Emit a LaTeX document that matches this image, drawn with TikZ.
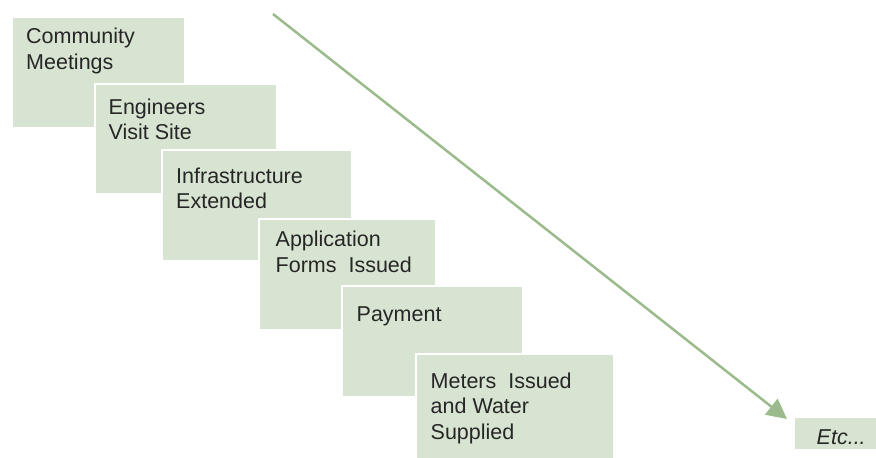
\documentclass[tikz,border=0pt]{standalone}
\usepackage{fontspec}
\setmainfont{Liberation Sans}
\usetikzlibrary{arrows.meta,calc,positioning}
\definecolor{stepfill}{RGB}{216,228,210}
\definecolor{flowgreen}{RGB}{155,187,140}
\definecolor{stepink}{RGB}{38,38,38}

\begin{document}
\begin{tikzpicture}[x=1pt,y=-1pt,
  stepbox/.style={rectangle, fill=stepfill, draw=white, line width=1.5pt,
    anchor=north west, inner sep=0pt},
  steplabel/.style={anchor=base west, inner sep=0pt, align=left, text=stepink,
    font=\fontsize{21.5}{25.5}\selectfont},
  flow/.style={draw=flowgreen, line width=2.5pt, -{Triangle[length=20pt,width=20pt]}}]
    \useasboundingbox (0,0) rectangle (876,458);

    % the steps, each one over the one before (base is the last line)
    \node[stepbox, minimum width=173pt, minimum height=111pt] (meet)   at (11,16) {};
    \node[steplabel] (meet-t)   at ($(meet.north west)+(15,53)$)     {Community\\Meetings};
    \node[stepbox, minimum width=182pt, minimum height=110pt] (visit)  at (94,83) {};
    \node[steplabel] (visit-t)  at ($(visit.north west)+(14.5,56.5)$) {Engineers\\Visit Site};
    \node[stepbox, minimum width=190pt, minimum height=111pt] (infra)  at (161,149) {};
    \node[steplabel] (infra-t)  at ($(infra.north west)+(15,59.5)$)  {Infrastructure\\Extended};
    \node[stepbox, minimum width=177pt, minimum height=111pt] (forms)  at (258,218) {};
    \node[steplabel] (forms-t)  at ($(forms.north west)+(17.5,54)$)  {Application\\Forms\ \ Issued};
    \node[stepbox, minimum width=181pt, minimum height=111pt] (pay)    at (341,285) {};
    \node[steplabel] (pay-t)    at ($(pay.north west)+(15.5,36.5)$)  {Payment};
    \node[stepbox, minimum width=198pt, minimum height=106pt] (meters) at (415,353) {};
    \node[steplabel] (meters-t) at ($(meters.north west)+(15.5,86)$) {Meters\ \ Issued\\and Water\\Supplied};

    % and so on
    \node[stepbox, minimum width=84pt, minimum height=33pt] (etc) at (793,416) {};
    \node[steplabel] (etc-t) at ($(etc.north west)+(23.5,28)$) {\itshape Etc...};

    \coordinate (start) at (273,14);
    \draw[flow] (start) -- ([xshift=-6pt,yshift=-3pt]etc.north west);

\end{tikzpicture}
\end{document}
